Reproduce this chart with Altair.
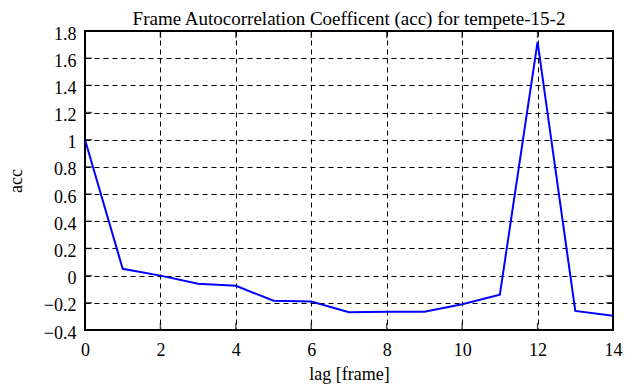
import altair as alt
import pandas as pd

lag = [0, 1, 2, 3, 4, 5, 6, 7, 8, 9, 10, 11, 12, 13, 14]
acc = [1.0, 0.05, 0.0, -0.06, -0.075, -0.185, -0.19, -0.27, -0.265, -0.265,
       -0.21, -0.14, 1.72, -0.26, -0.295]

x_ticks = [0, 2, 4, 6, 8, 10, 12, 14]
y_ticks = [-0.4, -0.2, 0, 0.2, 0.4, 0.6, 0.8, 1, 1.2, 1.4, 1.6, 1.8]
x_min, x_max = 0, 14
y_min, y_max = -0.4, 1.8

FONT = "Liberation Serif"
FS = 18

df = pd.DataFrame({"lag": lag, "acc": acc})

x_scale = alt.Scale(domain=[x_min, x_max], nice=False, zero=False)
y_scale = alt.Scale(domain=[y_min, y_max], nice=False, zero=False)

x_axis = alt.Axis(values=x_ticks, title="lag [frame]", grid=True, gridDash=[5, 4],
                  gridColor="black", gridOpacity=1, gridWidth=1, tickSize=0,
                  domain=False, labelFont=FONT, labelFontSize=FS, labelColor="black",
                  labelPadding=11, titleFont=FONT, titleFontSize=FS,
                  titleFontWeight="normal", titleColor="black", titlePadding=6,
                  labelFlush=False, labelOverlap=False)
y_axis = alt.Axis(values=y_ticks, title="acc", grid=True, gridDash=[5, 4],
                  gridColor="black", gridOpacity=1, gridWidth=1, tickSize=0,
                  domain=False, labelFont=FONT, labelFontSize=FS, labelColor="black",
                  labelPadding=9, labelOffset=3, titleFont=FONT, titleFontSize=FS,
                  titleFontWeight="normal", titleColor="black", titlePadding=18,
                  labelFlush=False, labelOverlap=False,
                  labelExpr="datum.value == 0 ? '0' : format(datum.value, '.1~f')")

line = alt.Chart(df).mark_line(color="#0000ff", strokeWidth=2, clip=True).encode(
    x=alt.X("lag:Q", scale=x_scale, axis=x_axis),
    y=alt.Y("acc:Q", scale=y_scale, axis=y_axis),
)

# inward tick marks on all four sides (clipped to the plot area)
xt = pd.DataFrame({"v": x_ticks * 2, "edge": [y_min] * len(x_ticks) + [y_max] * len(x_ticks)})
yt = pd.DataFrame({"v": y_ticks * 2, "edge": [x_min] * len(y_ticks) + [x_max] * len(y_ticks)})

xtick_marks = alt.Chart(xt).mark_tick(orient="vertical", size=14, thickness=1.5,
                                      color="black", clip=True).encode(
    x=alt.X("v:Q", scale=x_scale, axis=x_axis),
    y=alt.Y("edge:Q", scale=y_scale, axis=y_axis),
)
ytick_marks = alt.Chart(yt).mark_tick(orient="horizontal", size=14, thickness=1.5,
                                      color="black", clip=True).encode(
    x=alt.X("edge:Q", scale=x_scale, axis=x_axis),
    y=alt.Y("v:Q", scale=y_scale, axis=y_axis),
)

chart = alt.layer(line, xtick_marks, ytick_marks).properties(
    width=528,
    height=299,
    title=alt.TitleParams("Frame Autocorrelation Coefficent (acc) for tempete-15-2",
                          font=FONT, fontSize=19, fontWeight="normal", color="black",
                          anchor="middle", offset=-4),
    autosize=alt.AutoSizeParams(type="none"),
    padding={"left": 77, "top": 23, "right": 14, "bottom": 56},
).configure(background="white").configure_view(stroke="black", strokeWidth=2)

chart.save("out.html", embed_options={"renderer": "svg", "actions": False})
